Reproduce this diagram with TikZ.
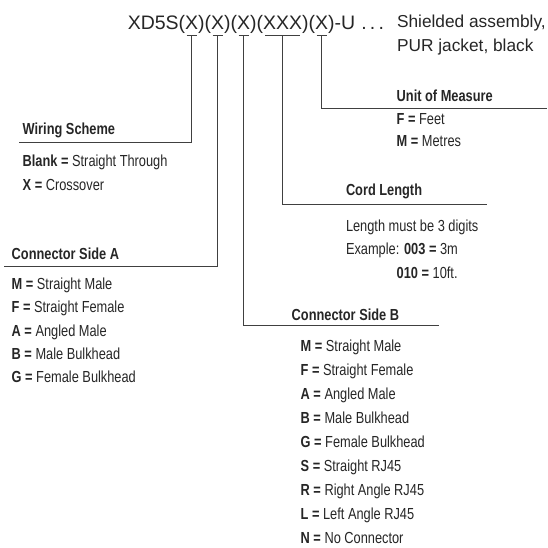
\documentclass[tikz,border=0pt]{standalone}
\usepackage{fontspec}
\setmainfont{Liberation Sans}
\newfontfamily\condfont[FakeStretch=0.8]{Liberation Sans}
\begin{document}
\begin{tikzpicture}[x=1pt,y=-1pt,
  txt/.style={inner sep=0pt, outer sep=0pt, anchor=base west, text=black!85},
  code/.style={txt, font=\fontsize{19.5}{23}\selectfont},
  desc/.style={txt, font=\fontsize{17.3}{23}\selectfont},
  head/.style={txt, font=\condfont\bfseries\fontsize{16}{18}\selectfont},
  item/.style={txt, font=\condfont\fontsize{16}{18}\selectfont},
  lead/.style={line width=0.8pt, draw=black!75}]
\useasboundingbox (0,0) rectangle (547,548);
% code line
\node[code] (t0) at (127.8,29.5) {XD5S(};
\node[code] (x1) at (t0.base east) {X};
\node[code] (t1) at (x1.base east) {)(};
\node[code] (x2) at (t1.base east) {X};
\node[code] (t2) at (x2.base east) {)(};
\node[code] (x3) at (t2.base east) {X};
\node[code] (t3) at (x3.base east) {)(};
\node[code] (x4) at (t3.base east) {XXX};
\node[code] (t4) at (x4.base east) {)(};
\node[code] (x5) at (t4.base east) {X};
\node[code] (t5) at (x5.base east) {)-U\hspace{6pt}.\hspace{3.2pt}.\hspace{3.2pt}.};
\node[desc] (d1) at (397,28) {Shielded assembly,};
\node[desc] (d2) at (397,51.5) {PUR jacket, black};
% underline anchors
\coordinate (u1) at ([yshift=-6.2pt]x1.base);
\coordinate (u2) at ([yshift=-6.2pt]x2.base);
\coordinate (u3) at ([yshift=-6.2pt]x3.base);
\coordinate (u4) at ([yshift=-6.2pt]x4.base);
\coordinate (u5) at ([yshift=-6.2pt]x5.base);
\draw[lead] ([xshift=-5pt]u1) -- ([xshift=5pt]u1);
\draw[lead] ([xshift=-5pt]u2) -- ([xshift=5pt]u2);
\draw[lead] ([xshift=-5pt]u3) -- ([xshift=5pt]u3);
\draw[lead] ([xshift=-17.5pt]u4) -- ([xshift=17.5pt]u4);
\draw[lead] ([xshift=-5pt]u5) -- ([xshift=5pt]u5);
% leader ends
\coordinate (wsEnd) at (19,142.7);
\coordinate (saEnd) at (4,266);
\coordinate (sbEnd) at (439.3,325.7);
\coordinate (clEnd) at (486.7,204);
\coordinate (umEnd) at (546.7,108.3);
\draw[lead] (u1) |- (wsEnd);
\draw[lead] (u2) |- (saEnd);
\draw[lead] (u3) |- (sbEnd);
\draw[lead] (u4) |- (clEnd);
\draw[lead] (u5) |- (umEnd);
% Unit of Measure
\node[head] (umH) at (396.7,101.7) {Unit of Measure};
\node[item] (um1) at (396.7,125) {\textbf{F =} Feet};
\node[item] (um2) at (396.7,146.7) {\textbf{M =} Metres};
% Wiring Scheme
\node[head] (wsH) at (22.7,135) {Wiring Scheme};
\node[item] (ws1) at (22.7,166.7) {\textbf{Blank =} Straight Through};
\node[item] (ws2) at (22.7,190.7) {\textbf{X =} Crossover};
% Cord Length
\node[head] (clH) at (346,195) {Cord Length};
\node[item] (cl1) at (346,231.7) {Length must be 3 digits};
\node[item] (cl2) at (346,254.5) {Example: \textbf{003 =} 3m};
\node[item] (cl3) at (396.7,278) {\textbf{010 =} 10ft.};
% Connector Side A
\node[head] (saH) at (11.7,259.5) {Connector Side A};
\foreach \k/\v [count=\i] in {M/Straight Male, F/Straight Female, A/Angled Male, B/Male Bulkhead, G/Female Bulkhead}
  \node[item] (sa\i) at (11.7,{289.5+23.3*(\i-1)}) {\textbf{\k\ =} \v};
% Connector Side B
\node[head] (sbH) at (291.7,320.5) {Connector Side B};
\foreach \k/\v [count=\i] in {M/Straight Male, F/Straight Female, A/Angled Male, B/Male Bulkhead, G/Female Bulkhead, S/Straight RJ45, R/Right Angle RJ45, L/Left Angle RJ45, N/No Connector}
  \node[item] (sb\i) at (300.7,{351.7+24*(\i-1)}) {\textbf{\k\ =} \v};
\end{tikzpicture}
\end{document}
